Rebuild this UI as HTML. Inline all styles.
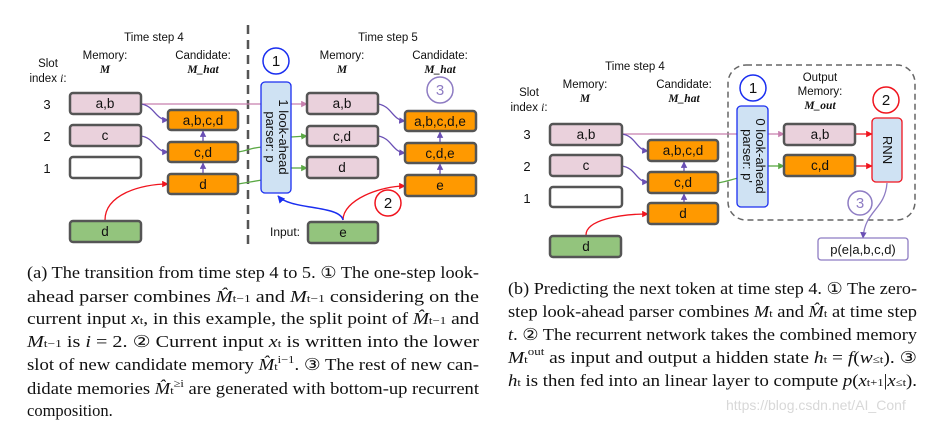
<!DOCTYPE html>
<html><head><meta charset="utf-8"><style>
html,body{margin:0;padding:0;background:#fff;}
svg{display:block;}
.s{font-family:"Liberation Sans",sans-serif;}
.r{font-family:"Liberation Serif",serif;}
</style></head><body>
<svg width="939" height="425" viewBox="0 0 939 425" xmlns="http://www.w3.org/2000/svg">
<defs>
<marker id="ap" viewBox="0 0 10 10" refX="9" refY="5" markerWidth="5" markerHeight="5" orient="auto"><path d="M0,0L10,5L0,10z" fill="#6a4fb5"/></marker>
<marker id="ak" viewBox="0 0 10 10" refX="9" refY="5" markerWidth="5" markerHeight="5" orient="auto"><path d="M0,0L10,5L0,10z" fill="#c77fae"/></marker>
<marker id="ag" viewBox="0 0 10 10" refX="9" refY="5" markerWidth="5" markerHeight="5" orient="auto"><path d="M0,0L10,5L0,10z" fill="#5aa844"/></marker>
<marker id="ar" viewBox="0 0 10 10" refX="9" refY="5" markerWidth="5" markerHeight="5" orient="auto"><path d="M0,0L10,5L0,10z" fill="#f0141e"/></marker>
<marker id="ab" viewBox="0 0 10 10" refX="9" refY="5" markerWidth="5" markerHeight="5" orient="auto"><path d="M0,0L10,5L0,10z" fill="#1a2ef0"/></marker>
</defs>
<g class="s" font-size="11.5" fill="#111" text-anchor="middle">
<!-- LEFT FIGURE -->
<text x="154" y="41">Time step 4</text>
<text x="105" y="59">Memory:</text>
<text x="105" y="73" class="r" font-weight="bold" font-style="italic">M</text>
<text x="203" y="59">Candidate:</text>
<text x="203" y="73" class="r" font-weight="bold" font-style="italic">M_hat</text>
<text x="48" y="67">Slot</text>
<text x="48" y="82">index <tspan class="r" font-style="italic">i</tspan>:</text>
<text x="47" y="109" font-size="13">3</text>
<text x="47" y="141" font-size="13">2</text>
<text x="47" y="173" font-size="13">1</text>
<text x="388" y="41">Time step 5</text>
<text x="342" y="59">Memory:</text>
<text x="342" y="73" class="r" font-weight="bold" font-style="italic">M</text>
<text x="440" y="59">Candidate:</text>
<text x="440" y="73" class="r" font-weight="bold" font-style="italic">M_hat</text>
<line x1="248" y1="25" x2="248" y2="250" stroke="#555" stroke-width="2.5" stroke-dasharray="9,6"/>
<path d="M141,104 L307,104" stroke="#c77fae" stroke-width="1.3" fill="none" marker-end="url(#ak)"/>
<path d="M141,104 C155,106 155,120 168,120" stroke="#6a4fb5" stroke-width="1.3" fill="none" marker-end="url(#ap)"/>
<path d="M141,136 C155,138 155,152 168,152" stroke="#6a4fb5" stroke-width="1.3" fill="none" marker-end="url(#ap)"/>
<path d="M203,174 L203,163" stroke="#6a4fb5" stroke-width="1.3" marker-end="url(#ap)"/>
<path d="M203,142 L203,131" stroke="#6a4fb5" stroke-width="1.3" marker-end="url(#ap)"/>
<path d="M238,152 C250,150 250,148 262,147" stroke="#5aa844" stroke-width="1.3" fill="none"/>
<path d="M238,184 C250,182 250,182 262,180" stroke="#5aa844" stroke-width="1.3" fill="none"/>
<path d="M291,137 L307,136" stroke="#5aa844" stroke-width="1.3" marker-end="url(#ag)"/>
<path d="M291,168 L307,168" stroke="#5aa844" stroke-width="1.3" marker-end="url(#ag)"/>
<path d="M105,220 C105,195 140,184 168,184" stroke="#f0141e" stroke-width="1.3" fill="none" marker-end="url(#ar)"/>
<path d="M343,220 C343,200 380,186 405,186" stroke="#f0141e" stroke-width="1.3" fill="none" marker-end="url(#ar)"/>
<path d="M343,220 C340,205 290,210 278,196" stroke="#1a2ef0" stroke-width="1.5" fill="none" marker-end="url(#ab)"/>
<path d="M378,104 C392,106 392,120 405,121" stroke="#6a4fb5" stroke-width="1.3" fill="none" marker-end="url(#ap)"/>
<path d="M378,136 C392,138 392,152 405,153" stroke="#6a4fb5" stroke-width="1.3" fill="none" marker-end="url(#ap)"/>
<path d="M440,175 L440,164" stroke="#6a4fb5" stroke-width="1.3" marker-end="url(#ap)"/>
<path d="M440,143 L440,132" stroke="#6a4fb5" stroke-width="1.3" marker-end="url(#ap)"/>
<g stroke="#555" stroke-width="2.5">
<rect x="70" y="93" width="71" height="21" rx="3" fill="#ead1dc"/>
<rect x="70" y="125" width="71" height="21" rx="3" fill="#ead1dc"/>
<rect x="70" y="157" width="71" height="21" rx="3" fill="#fff"/>
<rect x="70" y="221" width="71" height="21" rx="3" fill="#93c47d"/>
<rect x="168" y="110" width="70" height="20" rx="3" fill="#ff9900"/>
<rect x="168" y="142" width="70" height="20" rx="3" fill="#ff9900"/>
<rect x="168" y="174" width="70" height="20" rx="3" fill="#ff9900"/>
<rect x="307" y="93" width="71" height="21" rx="3" fill="#ead1dc"/>
<rect x="307" y="126" width="71" height="20" rx="3" fill="#ead1dc"/>
<rect x="307" y="157" width="71" height="21" rx="3" fill="#ead1dc"/>
<rect x="308" y="222" width="70" height="21" rx="3" fill="#93c47d"/>
<rect x="405" y="111" width="71" height="20" rx="3" fill="#ff9900"/>
<rect x="405" y="143" width="71" height="20" rx="3" fill="#ff9900"/>
<rect x="405" y="175" width="71" height="21" rx="3" fill="#ff9900"/>
</g>
<rect x="261" y="82" width="30" height="111" rx="4" fill="#cfe2f3" stroke="#1a2ef0" stroke-width="1.3"/>
<text transform="translate(276,137) rotate(90)" font-size="13"><tspan x="0" dy="-3">1 look-ahead</tspan><tspan x="0" dy="13">parser: p</tspan></text>
<g font-size="13.5">
<text x="105" y="108">a,b</text><text x="105" y="140">c</text><text x="105" y="236">d</text>
<text x="203" y="125">a,b,c,d</text><text x="203" y="157">c,d</text><text x="203" y="189">d</text>
<text x="342" y="108">a,b</text><text x="342" y="141">c,d</text><text x="342" y="172">d</text><text x="343" y="237">e</text>
<text x="440" y="126">a,b,c,d,e</text><text x="440" y="158">c,d,e</text><text x="440" y="190">e</text>
</g>
<text x="285" y="236" font-size="12">Input:</text>
<circle cx="276" cy="61" r="13" fill="#fff" stroke="#1a2ef0" stroke-width="1.5"/><text x="276" y="66" font-size="15">1</text>
<circle cx="388" cy="203" r="13" fill="#fff" stroke="#f0141e" stroke-width="1.5"/><text x="388" y="208" font-size="15">2</text>
<circle cx="440" cy="90" r="13" fill="#fff" stroke="#8e7cc3" stroke-width="1.5"/><text x="440" y="95" font-size="15" fill="#8e7cc3">3</text>

<!-- RIGHT FIGURE -->
<rect x="728" y="65" width="187" height="155" rx="18" fill="none" stroke="#666" stroke-width="1.5" stroke-dasharray="6,4"/>
<text x="635" y="70">Time step 4</text>
<text x="585" y="88">Memory:</text>
<text x="585" y="102" class="r" font-weight="bold" font-style="italic">M</text>
<text x="684" y="88">Candidate:</text>
<text x="684" y="102" class="r" font-weight="bold" font-style="italic">M_hat</text>
<text x="529" y="96">Slot</text>
<text x="529" y="111">index <tspan class="r" font-style="italic">i</tspan>:</text>
<text x="527" y="139" font-size="13">3</text>
<text x="527" y="171" font-size="13">2</text>
<text x="527" y="203" font-size="13">1</text>
<text x="820" y="81">Output</text>
<text x="820" y="95">Memory:</text>
<text x="820" y="109" class="r" font-weight="bold" font-style="italic">M_out</text>
<path d="M622,134 L784,134" stroke="#c77fae" stroke-width="1.3" fill="none" marker-end="url(#ak)"/>
<path d="M622,134 C636,136 636,150 648,151" stroke="#6a4fb5" stroke-width="1.3" fill="none" marker-end="url(#ap)"/>
<path d="M622,166 C636,168 636,182 648,182" stroke="#6a4fb5" stroke-width="1.3" fill="none" marker-end="url(#ap)"/>
<path d="M684,203 L684,194" stroke="#6a4fb5" stroke-width="1.3" marker-end="url(#ap)"/>
<path d="M684,172 L684,162" stroke="#6a4fb5" stroke-width="1.3" marker-end="url(#ap)"/>
<path d="M718,183 C728,181 730,180 738,178" stroke="#5aa844" stroke-width="1.3" fill="none"/>
<path d="M768,166 L784,166" stroke="#5aa844" stroke-width="1.3" marker-end="url(#ag)"/>
<path d="M586,235 C586,220 620,214 648,214" stroke="#f0141e" stroke-width="1.3" fill="none" marker-end="url(#ar)"/>
<path d="M855,134 L872,134" stroke="#f0141e" stroke-width="1.3" marker-end="url(#ar)"/>
<path d="M855,166 L872,166" stroke="#f0141e" stroke-width="1.3" marker-end="url(#ar)"/>
<path d="M887,183 C885,210 865,210 863,238" stroke="#8e7cc3" stroke-width="1.3" fill="none" marker-end="url(#ap)"/>
<g stroke="#555" stroke-width="2.5">
<rect x="550" y="124" width="72" height="21" rx="3" fill="#ead1dc"/>
<rect x="550" y="155" width="72" height="21" rx="3" fill="#ead1dc"/>
<rect x="550" y="187" width="72" height="20" rx="3" fill="#fff"/>
<rect x="550" y="236" width="71" height="21" rx="3" fill="#93c47d"/>
<rect x="648" y="140" width="70" height="21" rx="3" fill="#ff9900"/>
<rect x="648" y="172" width="70" height="21" rx="3" fill="#ff9900"/>
<rect x="648" y="203" width="70" height="21" rx="3" fill="#ff9900"/>
<rect x="784" y="124" width="71" height="21" rx="3" fill="#ead1dc"/>
<rect x="784" y="155" width="71" height="21" rx="3" fill="#ff9900"/>
</g>
<rect x="737" y="106" width="31" height="101" rx="4" fill="#cfe2f3" stroke="#1a2ef0" stroke-width="1.3"/>
<text transform="translate(753,156) rotate(90)" font-size="13"><tspan x="0" dy="-3">0 look-ahead</tspan><tspan x="0" dy="13">parser: p'</tspan></text>
<rect x="872" y="118" width="30" height="64" rx="4" fill="#cfe2f3" stroke="#f0141e" stroke-width="1.3"/>
<text transform="translate(883,150) rotate(90)" font-size="13">RNN</text>
<rect x="818" y="238" width="90" height="22" rx="3" fill="#fff" stroke="#8e7cc3" stroke-width="1.3"/>
<g font-size="13.5">
<text x="586" y="139">a,b</text><text x="586" y="170">c</text><text x="586" y="251">d</text>
<text x="683" y="155">a,b,c,d</text><text x="683" y="187">c,d</text><text x="683" y="218">d</text>
<text x="820" y="139">a,b</text><text x="820" y="170">c,d</text>
<text x="863" y="254" font-size="13">p(e|a,b,c,d)</text>
</g>
<circle cx="753" cy="88" r="13" fill="#fff" stroke="#1a2ef0" stroke-width="1.5"/><text x="753" y="93" font-size="15">1</text>
<circle cx="886" cy="100" r="13" fill="#fff" stroke="#f0141e" stroke-width="1.5"/><text x="886" y="105" font-size="15">2</text>
<circle cx="860" cy="203" r="12" fill="#fff" stroke="#8e7cc3" stroke-width="1.5"/><text x="860" y="208" font-size="15" fill="#8e7cc3">3</text>
</g>

<!-- CAPTIONS -->
<g class="r" font-size="16.5" fill="#111">
<text x="27" y="278" textLength="452" lengthAdjust="spacingAndGlyphs">(a) The transition from time step 4 to 5. ① The one-step look-</text>
<text x="27" y="302" textLength="452" lengthAdjust="spacingAndGlyphs">ahead parser combines <tspan font-style="italic">M̂</tspan><tspan font-size="11">t−1</tspan> and <tspan font-style="italic">M</tspan><tspan font-size="11">t−1</tspan> considering on the</text>
<text x="27" y="324" textLength="452" lengthAdjust="spacingAndGlyphs">current input <tspan font-style="italic">x</tspan><tspan font-size="11">t</tspan>, in this example, the split point of <tspan font-style="italic">M̂</tspan><tspan font-size="11">t−1</tspan> and</text>
<text x="27" y="347" textLength="452" lengthAdjust="spacingAndGlyphs"><tspan font-style="italic">M</tspan><tspan font-size="11">t−1</tspan> is <tspan font-style="italic">i</tspan> = 2. ② Current input <tspan font-style="italic">x</tspan><tspan font-size="11">t</tspan> is written into the lower</text>
<text x="27" y="370" textLength="452" lengthAdjust="spacingAndGlyphs">slot of new candidate memory <tspan font-style="italic">M̂</tspan><tspan font-size="11">t</tspan><tspan font-size="11" dy="-7">i−1</tspan><tspan dy="7">. ③ The rest of new can-</tspan></text>
<text x="27" y="394" textLength="452" lengthAdjust="spacingAndGlyphs">didate memories <tspan font-style="italic">M̂</tspan><tspan font-size="11">t</tspan><tspan font-size="11" dy="-7">≥i</tspan><tspan dy="7"> are generated with bottom-up recurrent</tspan></text>
<text x="27" y="416">composition.</text>

<text x="508" y="294" textLength="409" lengthAdjust="spacingAndGlyphs">(b) Predicting the next token at time step 4. ① The zero-</text>
<text x="508" y="317" textLength="409" lengthAdjust="spacingAndGlyphs">step look-ahead parser combines <tspan font-style="italic">M</tspan><tspan font-size="11">t</tspan> and <tspan font-style="italic">M̂</tspan><tspan font-size="11">t</tspan> at time step</text>
<text x="508" y="340" textLength="409" lengthAdjust="spacingAndGlyphs"><tspan font-style="italic">t</tspan>. ② The recurrent network takes the combined memory</text>
<text x="508" y="363" textLength="409" lengthAdjust="spacingAndGlyphs"><tspan font-style="italic">M</tspan><tspan font-size="11">t</tspan><tspan font-size="11" dy="-8">out</tspan><tspan dy="8"> as input and output a hidden state </tspan><tspan font-style="italic">h</tspan><tspan font-size="11">t</tspan> = <tspan font-style="italic">f</tspan>(<tspan font-style="italic">w</tspan><tspan font-size="11">≤t</tspan>). ③</text>
<text x="508" y="386" textLength="409" lengthAdjust="spacingAndGlyphs"><tspan font-style="italic">h</tspan><tspan font-size="11">t</tspan> is then fed into an linear layer to compute <tspan font-style="italic">p</tspan>(<tspan font-style="italic">x</tspan><tspan font-size="11">t+1</tspan>|<tspan font-style="italic">x</tspan><tspan font-size="11">≤t</tspan>).</text>
</g>
<text x="726" y="410" class="s" font-size="14" fill="#d8d8d8">https://blog.csdn.net/AI_Conf</text>
</svg>
</body></html>
